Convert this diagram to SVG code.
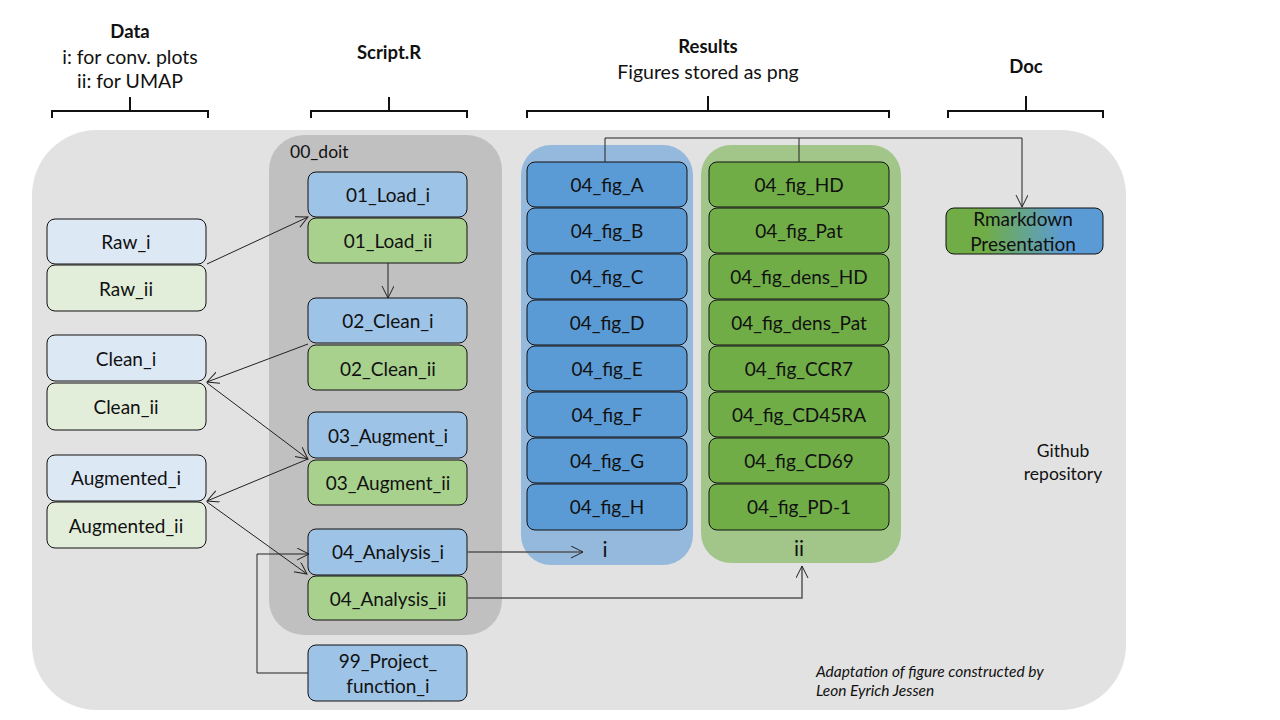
<svg xmlns="http://www.w3.org/2000/svg" width="1280" height="720" viewBox="0 0 1280 720">
<defs>
<marker id="ah" markerWidth="14" markerHeight="14" refX="12" refY="6" orient="auto" markerUnits="userSpaceOnUse">
<path d="M0,0 L12,6 L0,12" fill="none" stroke="#222" stroke-width="1"/>
</marker>
<linearGradient id="gr" x1="0" y1="0" x2="1" y2="0">
<stop offset="0" stop-color="#70ad47"/>
<stop offset="0.25" stop-color="#70ad47"/>
<stop offset="0.75" stop-color="#5b9bd5"/>
<stop offset="1" stop-color="#5b9bd5"/>
</linearGradient>
<style>
text{font-family:"Lato","Open Sans","Liberation Sans",sans-serif;fill:#111;text-anchor:middle}
.hd{font-weight:bold;font-size:18.5px}
.sub{font-size:19.5px}
.n{font-size:19px}
.nd rect{stroke:#111;stroke-width:1}
.lb{fill:#dde8f5}.lg{fill:#e2eed9}
.sb{fill:#9dc3e6}.sg{fill:#a9d18e}
.fb{fill:#5b9bd5}.fg{fill:#70ad47}
.br{fill:none;stroke:#111;stroke-width:2}
.c{fill:none;stroke:#222;stroke-width:1}
.c2{fill:none;stroke:#555;stroke-width:1.5}
</style>
</defs>
<rect width="1280" height="720" fill="#fff"/>
<!-- headers -->
<g id="headers">
<text class="hd" x="130" y="38">Data</text>
<text class="sub" x="130" y="64">i: for conv. plots</text>
<text class="sub" x="130" y="88">ii: for UMAP</text>
<text class="hd" x="389" y="59">Script.R</text>
<text class="hd" x="708" y="53">Results</text>
<text class="sub" x="708" y="79">Figures stored as png</text>
<text class="hd" x="1026" y="73">Doc</text>
<path class="br" d="M52,118 V111 H208 V118 M130,111 V97"/>
<path class="br" d="M311,118 V111 H467 V118 M389,111 V97"/>
<path class="br" d="M527,118 V111 H889 V118 M708,111 V96"/>
<path class="br" d="M948,118 V111 H1103 V118 M1026,111 V96"/>
</g>
<!-- containers -->
<g id="repo">
<rect x="32" y="130" width="1094" height="580" rx="65" fill="#e2e2e2"/>
<text x="1063" y="457" style="font-size:17.5px">Github</text>
<text x="1063" y="480" style="font-size:17.5px">repository</text>
<text x="816" y="677" style="font-size:15.5px;font-style:italic;text-anchor:start">Adaptation of figure constructed by</text>
<text x="816" y="696" style="font-size:15.5px;font-style:italic;text-anchor:start">Leon Eyrich Jessen</text>
</g>
<g id="doit">
<rect x="269" y="135" width="233" height="500" rx="35" fill="#c0c0c0"/>
<text x="290" y="158" style="font-size:17.5px;text-anchor:start">00_doit</text>
</g>
<g id="res_i">
<rect x="521" y="145" width="172" height="420" rx="30" fill="#95b9dd"/>
<text x="605" y="557" style="font-size:21px">i</text>
</g>
<g id="res_ii">
<rect x="701" y="145" width="200" height="418" rx="30" fill="#a2c68a"/>
<text x="799" y="556" style="font-size:21px">ii</text>
</g>
<!-- data nodes -->
<g id="raw_i" class="nd"><rect class="lb" x="47" y="219" width="159" height="45" rx="8"/><text class="n" x="126" y="249">Raw_i</text></g>
<g id="raw_ii" class="nd"><rect class="lg" x="47" y="265" width="159" height="46" rx="8"/><text class="n" x="126" y="296">Raw_ii</text></g>
<g id="clean_i" class="nd"><rect class="lb" x="47" y="335" width="159" height="46" rx="8"/><text class="n" x="126" y="366">Clean_i</text></g>
<g id="clean_ii" class="nd"><rect class="lg" x="47" y="383" width="159" height="47" rx="8"/><text class="n" x="126" y="414">Clean_ii</text></g>
<g id="aug_i" class="nd"><rect class="lb" x="47" y="455" width="159" height="46" rx="8"/><text class="n" x="126" y="485">Augmented_i</text></g>
<g id="aug_ii" class="nd"><rect class="lg" x="47" y="502" width="159" height="46" rx="8"/><text class="n" x="126" y="533">Augmented_ii</text></g>
<!-- script nodes -->
<g id="load_i" class="nd"><rect class="sb" x="308" y="172" width="159" height="45" rx="8"/><text class="n" x="388" y="202">01_Load_i</text></g>
<g id="load_ii" class="nd"><rect class="sg" x="308" y="218" width="159" height="45" rx="8"/><text class="n" x="388" y="248">01_Load_ii</text></g>
<g id="clean_s_i" class="nd"><rect class="sb" x="308" y="298" width="159" height="45" rx="8"/><text class="n" x="388" y="328">02_Clean_i</text></g>
<g id="clean_s_ii" class="nd"><rect class="sg" x="308" y="345" width="159" height="45" rx="8"/><text class="n" x="388" y="376">02_Clean_ii</text></g>
<g id="augment_i" class="nd"><rect class="sb" x="308" y="412" width="159" height="46" rx="8"/><text class="n" x="388" y="443">03_Augment_i</text></g>
<g id="augment_ii" class="nd"><rect class="sg" x="308" y="460" width="159" height="45" rx="8"/><text class="n" x="388" y="490">03_Augment_ii</text></g>
<g id="analysis_i" class="nd"><rect class="sb" x="308" y="529" width="159" height="46" rx="8"/><text class="n" x="388" y="559">04_Analysis_i</text></g>
<g id="analysis_ii" class="nd"><rect class="sg" x="308" y="576" width="159" height="44" rx="8"/><text class="n" x="388" y="606">04_Analysis_ii</text></g>
<g id="project" class="nd"><rect class="sb" x="308" y="645" width="159" height="56" rx="8"/><text class="n" x="388" y="668">99_Project_</text><text class="n" x="388" y="693">function_i</text></g>
<!-- figure nodes i -->
<g id="fig_A" class="nd"><rect class="fb" x="527" y="162" width="160" height="45" rx="8"/><text class="n" x="607" y="192">04_fig_A</text></g>
<g id="fig_B" class="nd"><rect class="fb" x="527" y="208" width="160" height="45" rx="8"/><text class="n" x="607" y="238">04_fig_B</text></g>
<g id="fig_C" class="nd"><rect class="fb" x="527" y="254" width="160" height="45" rx="8"/><text class="n" x="607" y="284">04_fig_C</text></g>
<g id="fig_D" class="nd"><rect class="fb" x="527" y="300" width="160" height="45" rx="8"/><text class="n" x="607" y="330">04_fig_D</text></g>
<g id="fig_E" class="nd"><rect class="fb" x="527" y="346" width="160" height="45" rx="8"/><text class="n" x="607" y="376">04_fig_E</text></g>
<g id="fig_F" class="nd"><rect class="fb" x="527" y="392" width="160" height="45" rx="8"/><text class="n" x="607" y="422">04_fig_F</text></g>
<g id="fig_G" class="nd"><rect class="fb" x="527" y="438" width="160" height="45" rx="8"/><text class="n" x="607" y="468">04_fig_G</text></g>
<g id="fig_H" class="nd"><rect class="fb" x="527" y="484" width="160" height="46" rx="8"/><text class="n" x="607" y="514">04_fig_H</text></g>
<!-- figure nodes ii -->
<g id="fig_HD" class="nd"><rect class="fg" x="709" y="162" width="180" height="45" rx="8"/><text class="n" x="799" y="192">04_fig_HD</text></g>
<g id="fig_Pat" class="nd"><rect class="fg" x="709" y="208" width="180" height="45" rx="8"/><text class="n" x="799" y="238">04_fig_Pat</text></g>
<g id="fig_dens_HD" class="nd"><rect class="fg" x="709" y="254" width="180" height="45" rx="8"/><text class="n" x="799" y="284">04_fig_dens_HD</text></g>
<g id="fig_dens_Pat" class="nd"><rect class="fg" x="709" y="300" width="180" height="45" rx="8"/><text class="n" x="799" y="330">04_fig_dens_Pat</text></g>
<g id="fig_CCR7" class="nd"><rect class="fg" x="709" y="346" width="180" height="45" rx="8"/><text class="n" x="799" y="376">04_fig_CCR7</text></g>
<g id="fig_CD45RA" class="nd"><rect class="fg" x="709" y="392" width="180" height="45" rx="8"/><text class="n" x="799" y="422">04_fig_CD45RA</text></g>
<g id="fig_CD69" class="nd"><rect class="fg" x="709" y="438" width="180" height="45" rx="8"/><text class="n" x="799" y="468">04_fig_CD69</text></g>
<g id="fig_PD1" class="nd"><rect class="fg" x="709" y="484" width="180" height="46" rx="8"/><text class="n" x="799" y="514">04_fig_PD-1</text></g>
<!-- doc -->
<g id="rmarkdown" class="nd"><rect x="946" y="208" width="157" height="46" rx="8" fill="url(#gr)"/><text class="n" x="1023" y="226">Rmarkdown</text><text class="n" x="1023" y="251">Presentation</text></g>
<!-- connectors -->
<g id="connectors">
<path class="c" d="M207,264 L308,217" marker-end="url(#ah)"/>
<path class="c" d="M388,263 V298" marker-end="url(#ah)"/>
<path class="c" d="M308,344 L207,382" marker-end="url(#ah)"/>
<path class="c" d="M207,383 L308,459" marker-end="url(#ah)"/>
<path class="c" d="M308,459 L207,501" marker-end="url(#ah)"/>
<path class="c" d="M207,502 L307,574" marker-end="url(#ah)"/>
<path class="c" d="M308,673 H257 V554 H309" marker-end="url(#ah)"/>
<path class="c2" d="M467,552 H583" marker-end="url(#ah)"/>
<path class="c2" d="M467,598 H802 V566" marker-end="url(#ah)"/>
<path class="c" d="M605,162 V138 H1022 V207" marker-end="url(#ah)"/>
<path class="c" d="M799,138 V162"/>
</g>
</svg>
